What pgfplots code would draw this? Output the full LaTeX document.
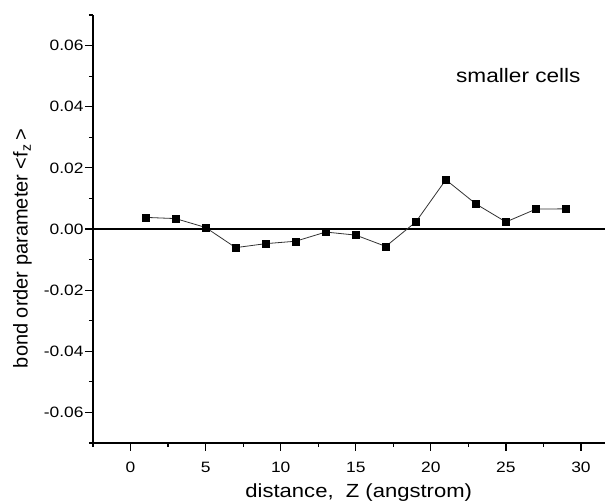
\documentclass[border=0pt]{standalone}
\usepackage{fontspec}
\setmainfont{Liberation Sans}[FakeStretch=1.16]
\newfontfamily\plainsans{Liberation Sans}
\usepackage{pgfplots}
\pgfplotsset{compat=1.18}

\begin{document}
\begin{tikzpicture}
\begin{axis}[
    scale only axis,
    width=512pt, height=428pt,
    xmin=-2.5, xmax=31.6,
    ymin=-0.07, ymax=0.07,
    axis x line=bottom, axis y line=left,
    axis line style={-, line width=1.4pt},
    xtick={0,5,...,30},
    minor xtick={-2.5,2.5,7.5,12.5,17.5,22.5,27.5},
    ytick={-0.06,-0.04,...,0.061},
    minor ytick={-0.07,-0.05,-0.03,-0.01,0.01,0.03,0.05,0.07},
    tick align=outside,
    major tick length=8pt, minor tick length=4pt,
    tick style={line width=1.2pt, black},
    /pgf/number format/assume math mode=true,
    yticklabel style={/pgf/number format/fixed, /pgf/number format/fixed zerofill,
        /pgf/number format/precision=2, xshift=2pt},
    xticklabel style={yshift=-8pt},
    scaled y ticks=false,
    ticklabel style={font=\fontsize{15}{17}\selectfont},
    xlabel={distance,\ \ Z (angstrom)},
    ylabel={bond order parameter {<}f\textsubscript{z}\,{>}},
    xlabel style={font=\fontsize{19}{22}\selectfont, at={(rel axis cs:0.519,0)},
        anchor=base, yshift=-54.3pt, inner sep=0pt},
    ylabel style={font=\plainsans\fontsize{20}{22}\selectfont, at={(rel axis cs:0,0.454)},
        anchor=center, yshift=70.5pt, inner sep=0pt},
    clip=false,
]
\coordinate (bl) at (rel axis cs:0,0);
\coordinate (tr) at (rel axis cs:1,1);
\addplot[black, line width=1.2pt] coordinates {(-2.5,0) (31.6,0)};
\addplot[black!80, line width=0.8pt, mark=square*, mark size=3.5pt,
    mark options={fill=black, draw=black, solid, line width=0.4pt}] coordinates {
    (1,0.0038) (3,0.0034) (5,0.0005) (7,-0.0061) (9,-0.0048)
    (11,-0.0040) (13,-0.0010) (15,-0.0020) (17,-0.0057) (19,0.0023)
    (21,0.0161) (23,0.0082) (25,0.0023) (27,0.0065) (29,0.0066)
};
\node[font=\fontsize{19.5}{22}\selectfont, anchor=base, inner sep=0pt]
    at (axis cs:25.83,0.0478) {smaller cells};
\end{axis}
\pgfresetboundingbox
\path ([xshift=-93pt,yshift=-60pt]bl) rectangle ([xshift=5pt,yshift=15pt]tr);
\end{tikzpicture}
\end{document}
